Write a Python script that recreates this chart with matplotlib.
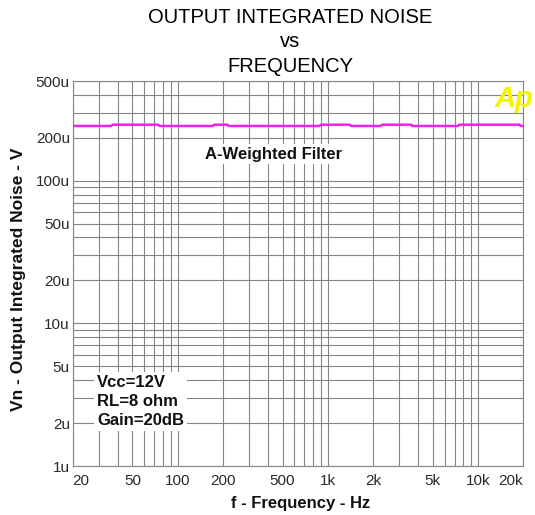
import matplotlib.pyplot as plt
from matplotlib.ticker import FixedLocator, LogLocator, NullFormatter

plt.rcParams['font.family'] = ['Liberation Sans', 'DejaVu Sans']

# A-weighted integrated noise (Hz, volts)
freq = [20, 36, 37, 74, 76, 172, 175, 215, 218, 885, 900, 1400, 1430,
        2250, 2300, 3600, 3650, 7400, 7500, 19000, 19300, 20000]
noise = [242e-6, 242e-6, 247e-6, 247e-6, 242e-6, 242e-6, 247e-6, 247e-6,
         242e-6, 242e-6, 247e-6, 247e-6, 242e-6, 242e-6, 247e-6, 247e-6,
         242e-6, 242e-6, 247e-6, 247e-6, 242e-6, 242e-6]

xticks = [20, 50, 100, 200, 500, 1000, 2000, 5000, 10000, 20000]
xlabels = ['20', '50', '100', '200', '500', '1k', '2k', '5k', '10k', '20k']
yticks = [1e-6, 2e-6, 5e-6, 1e-5, 2e-5, 5e-5, 1e-4, 2e-4, 5e-4]
ylabels = ['1u', '2u', '5u', '10u', '20u', '50u', '100u', '200u', '500u']

grid_col = '#858585'

fig = plt.figure(figsize=(5.35, 5.15), dpi=100)
ax = fig.add_axes([0.1359, 0.0951, 0.8417, 0.7476])

ax.plot(freq, noise, color='#f020f0', lw=1.8, zorder=3)

ax.set_xscale('log')
ax.set_yscale('log')
ax.set_xlim(20, 20000)
ax.set_ylim(1e-6, 5e-4)

ax.xaxis.set_major_locator(FixedLocator(xticks))
ax.xaxis.set_minor_locator(LogLocator(base=10, subs=range(1, 10), numticks=20))
ax.xaxis.set_minor_formatter(NullFormatter())
ax.set_xticklabels(xlabels)
ax.yaxis.set_major_locator(FixedLocator(yticks))
ax.yaxis.set_minor_locator(LogLocator(base=10, subs=range(1, 10), numticks=20))
ax.yaxis.set_minor_formatter(NullFormatter())
ax.set_yticklabels(ylabels)

ax.grid(True, which='both', color=grid_col, lw=0.8)
ax.set_axisbelow(True)
for s in ax.spines.values():
    s.set_color(grid_col)
    s.set_linewidth(0.8)

ax.tick_params(which='both', length=0)
ax.tick_params(axis='x', pad=6, labelsize=11, labelcolor='#2a2a2a')
ax.tick_params(axis='y', pad=2, labelsize=11, labelcolor='#2a2a2a')
xl = ax.get_xticklabels()
xl[0].set_horizontalalignment('left')
xl[-1].set_horizontalalignment('right')

# title, three lines
fig.text(0.542, 1 - 23 / 515, 'OUTPUT INTEGRATED NOISE', ha='center', va='baseline',
         fontsize=14.5, color='black')
fig.text(0.542, 1 - 47 / 515, 'vs', ha='center', va='baseline',
         fontsize=14.5, color='black')
fig.text(0.542, 1 - 72 / 515, 'FREQUENCY', ha='center', va='baseline',
         fontsize=14.5, color='black')

fig.text(301 / 535, 1 - 508 / 515, 'f - Frequency - Hz', ha='center', va='baseline',
         fontsize=12, fontweight='bold', color='#111111')
fig.text(19 / 535, 1 - 279 / 515, 'Vn - Output Integrated Noise - V', rotation=90,
         ha='center', va='center', fontsize=12.5, fontweight='bold', color='#111111')

ax.text(0.445, 0.81, 'A-Weighted Filter', transform=ax.transAxes, ha='center',
        va='center', fontsize=12, fontweight='bold', color='#111111', zorder=4,
        bbox=dict(boxstyle='square,pad=0.15', fc='white', ec='none'))
ax.text(0.054, 0.1675, 'Vcc=12V\nRL=8 ohm\nGain=20dB', transform=ax.transAxes,
        ha='left', va='center', fontsize=12, fontweight='bold', color='#111111',
        linespacing=1.3, zorder=4,
        bbox=dict(boxstyle='square,pad=0.2', fc='white', ec='none'))

fig.text(514 / 535, 1 - 99 / 515, 'Ap', ha='center', va='center', fontsize=21,
         fontweight='bold', fontstyle='italic', color='#f4f400')

fig.savefig('out.png', dpi=100)
